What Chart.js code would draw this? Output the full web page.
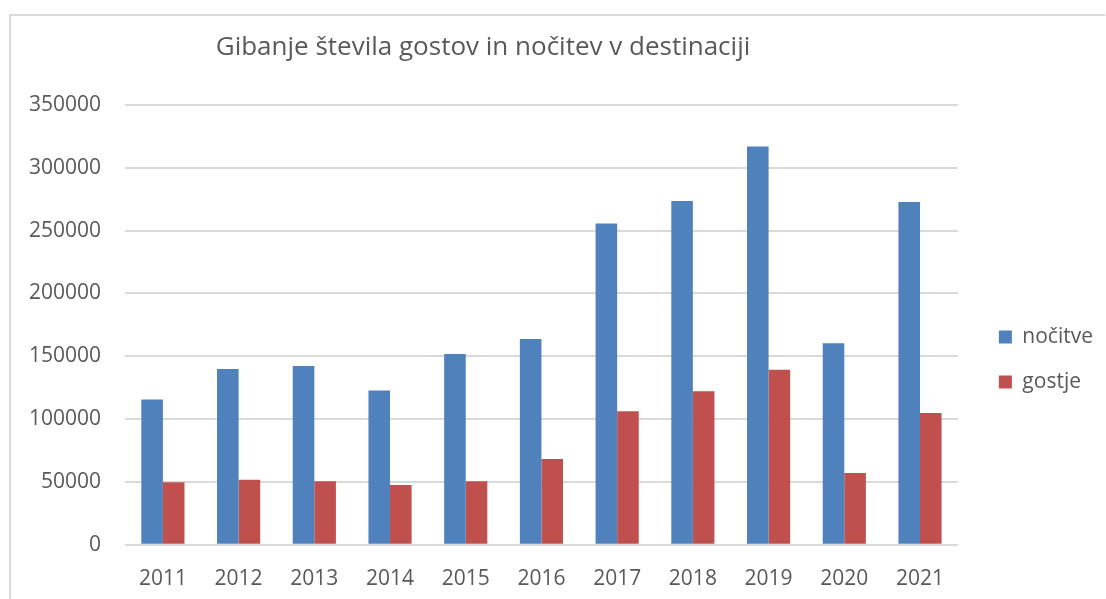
<!DOCTYPE html>
<html>
<head>
<meta charset="utf-8">
<script src="https://cdn.jsdelivr.net/npm/chart.js@4"></script>
<style>
  html, body { margin: 0; padding: 0; background: #fff; }
  #wrap { position: absolute; left: 0; top: 0; width: 1106px; height: 599px; }
</style>
</head>
<body>
<div id="wrap"><canvas id="tourismChart"></canvas></div>
<script>
const years = ['2011', '2012', '2013', '2014', '2015', '2016', '2017', '2018', '2019', '2020', '2021'];
const nocitve = [115600, 140000, 142200, 122800, 151800, 163700, 255600, 273600, 317000, 160400, 272800];
const gostje = [49700, 51800, 50500, 47500, 50500, 68300, 106300, 122100, 139300, 57100, 104900];
const chartTitle = 'Gibanje števila gostov in nočitev v destinaciji';

const textColor = '#595959';
const gridColor = '#d9d9d9';
const fontFamily = '"Open Sans", "Liberation Sans", sans-serif';

// frame + title drawn by hand (Excel-like placement)
const framePlugin = {
    id: 'frame',
    afterLayout(chart) {
        // push the legend a bit to the right, like in Excel
        chart.legend.left += 17;
        chart.legend.right += 17;
    },
    beforeDraw(chart) {
        const ctx = chart.ctx;
        ctx.save();
        ctx.fillStyle = '#fff';
        ctx.fillRect(0, 0, chart.width, chart.height);
        ctx.strokeStyle = gridColor;
        ctx.lineWidth = 2;
        ctx.beginPath();
        ctx.moveTo(10, chart.height);
        ctx.lineTo(10, 15);
        ctx.lineTo(1105, 15);
        ctx.stroke();
        ctx.restore();
    },
    afterDraw(chart) {
        const ctx = chart.ctx;
        ctx.save();
        ctx.fillStyle = textColor;
        ctx.font = '26px ' + fontFamily;
        ctx.textAlign = 'center';
        ctx.textBaseline = 'middle';
        ctx.fillText(chartTitle, 483, 48);
        ctx.restore();
    }
};

const ctx = document.getElementById('tourismChart').getContext('2d');
const tourismChart = new Chart(ctx, {
    type: 'bar',
    data: {
        labels: years,
        datasets: [
            { label: 'nočitve', data: nocitve, backgroundColor: '#4F81BD' },
            { label: 'gostje', data: gostje, backgroundColor: '#C0504D' }
        ]
    },
    options: {
        responsive: true,
        maintainAspectRatio: false,
        animation: false,
        categoryPercentage: 0.57,
        barPercentage: 1.0,
        layout: {
            padding: { top: 105, left: 5, right: 20, bottom: -15 }
        },
        plugins: {
            title: { display: false },
            tooltip: { enabled: false },
            legend: {
                position: 'right',
                labels: {
                    color: textColor,
                    font: { family: fontFamily, size: 21 },
                    boxWidth: 13,
                    boxHeight: 13,
                    padding: 24
                }
            }
        },
        scales: {
            x: {
                grid: { display: false, drawTicks: false },
                border: { display: false },
                ticks: {
                    color: textColor,
                    font: { family: fontFamily, size: 21 },
                    padding: 22
                }
            },
            y: {
                min: 0,
                max: 350000,
                grid: { color: gridColor, lineWidth: 2, drawTicks: false },
                border: { display: false },
                ticks: {
                    stepSize: 50000,
                    color: textColor,
                    font: { family: fontFamily, size: 21 },
                    padding: 24,
                    callback: (v) => String(v)
                }
            }
        }
    },
    plugins: [framePlugin]
});
</script>
</body>
</html>
